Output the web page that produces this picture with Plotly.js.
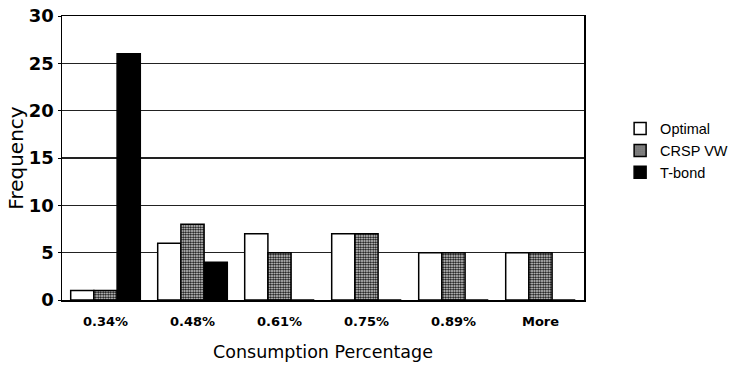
<!DOCTYPE html>
<html>
<head>
<meta charset="utf-8">
<script src="https://cdn.plot.ly/plotly-3.0.1.min.js"></script>
<style>html,body{margin:0;padding:0;background:#fff;}</style>
</head>
<body>
<div id="chart" style="width:733px;height:367px;"></div>
<script>
var categories = ["0.34%", "0.48%", "0.61%", "0.75%", "0.89%", "More"];
var optimal = [1, 6, 7, 7, 5, 5];
var crspVW = [1, 8, 5, 7, 5, 5];
var tbond = [26, 4, 0, 0, 0, 0];

var line = {color: "#000", width: 1.5};
var traces = [
  {type: "bar", name: "Optimal", x: categories, y: optimal,
   marker: {color: "#fff", line: line}},
  {type: "bar", name: "CRSP VW", x: categories, y: crspVW,
   marker: {color: "#fff", line: line,
            pattern: {shape: ".", fgcolor: "#000", bgcolor: "#fff", size: 2.5, solidity: 0.6}}},
  {type: "bar", name: "T-bond", x: categories, y: tbond,
   marker: {color: "#000", line: line}}
];

var dv = "DejaVu Sans, Verdana, sans-serif";
var layout = {
  width: 733, height: 367,
  margin: {l: 62, r: 149, t: 16, b: 67, autoexpand: false},
  paper_bgcolor: "#fff", plot_bgcolor: "#fff",
  barmode: "group", bargap: 0.2, bargroupgap: 0,
  font: {family: dv, color: "#000"},
  xaxis: {
    type: "category",
    showline: true, linecolor: "#000", linewidth: 1.5, mirror: true,
    ticks: "", ticklabelstandoff: 9,
    tickfont: {family: dv, size: 13, weight: "bold", color: "#000"},
    title: {text: "Consumption Percentage", font: {family: dv, size: 17.5, color: "#000"}, standoff: 17}
  },
  yaxis: {
    range: [0, 30], dtick: 5,
    showline: true, linecolor: "#000", linewidth: 1.5, mirror: true,
    showgrid: true, gridcolor: "#222", gridwidth: 1.2,
    ticks: "outside", ticklen: 3, tickcolor: "#000",
    tickfont: {family: dv, size: 18, weight: "bold", color: "#000"},
    title: {text: "Frequency", font: {family: dv, size: 20, color: "#000"}, standoff: 0},
    zeroline: false
  },
  legend: {xref: "container", yref: "container", x: 0.846, y: 0.693,
           xanchor: "left", yanchor: "top",
           font: {family: "Liberation Sans, Arial, sans-serif", size: 14.5, color: "#000"},
           tracegroupgap: 0, itemwidth: 30},
  showlegend: true
};

Plotly.newPlot("chart", traces, layout, {staticPlot: true});
</script>
</body>
</html>
